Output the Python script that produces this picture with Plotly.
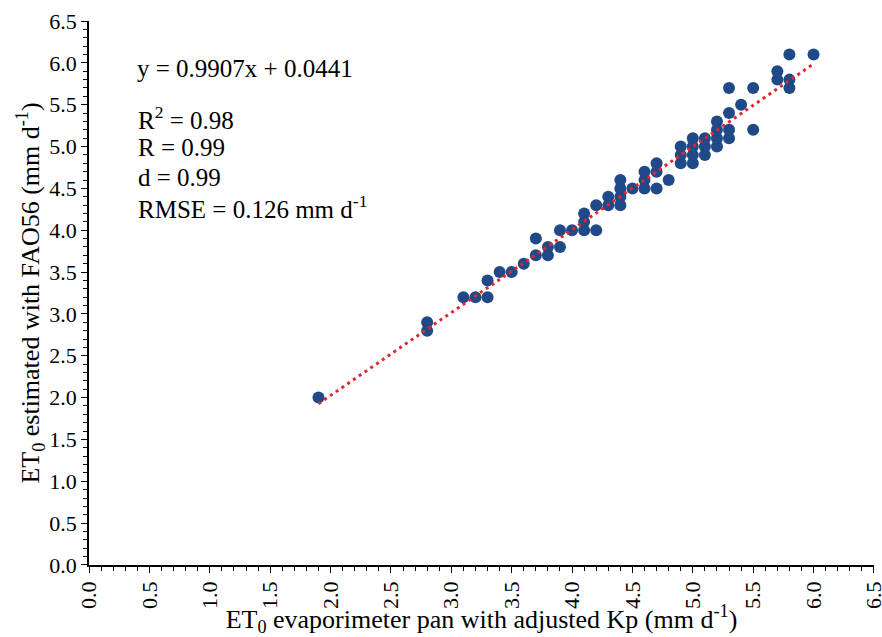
import plotly.graph_objects as go

pan_et0 = [1.9, 2.8, 2.8, 3.1, 3.2, 3.3, 3.3, 3.4, 3.5, 3.6, 3.7, 3.7, 3.8, 3.8,
           3.9, 3.9, 4.0, 4.1, 4.1, 4.1, 4.2, 4.2, 4.3, 4.3, 4.4, 4.4, 4.4, 4.4,
           4.5, 4.6, 4.6, 4.6, 4.7, 4.7, 4.7, 4.8, 4.9, 4.9, 4.9, 5.0, 5.0, 5.0,
           5.0, 5.1, 5.1, 5.1, 5.2, 5.2, 5.2, 5.2, 5.3, 5.3, 5.3, 5.3, 5.4, 5.5,
           5.5, 5.7, 5.7, 5.8, 5.8, 5.8, 6.0]
fao56_et0 = [2.0, 2.8, 2.9, 3.2, 3.2, 3.2, 3.4, 3.5, 3.5, 3.6, 3.7, 3.9, 3.7, 3.8,
             3.8, 4.0, 4.0, 4.0, 4.1, 4.2, 4.0, 4.3, 4.3, 4.4, 4.3, 4.4, 4.5, 4.6,
             4.5, 4.5, 4.6, 4.7, 4.5, 4.7, 4.8, 4.6, 4.8, 4.9, 5.0, 4.8, 4.9, 5.0,
             5.1, 4.9, 5.0, 5.1, 5.0, 5.1, 5.2, 5.3, 5.1, 5.2, 5.4, 5.7, 5.5, 5.2,
             5.7, 5.8, 5.9, 5.7, 5.8, 6.1, 6.1]

# Linear trendline endpoints (y = 0.9907x + 0.0441)
trend_x = [1.9, 6.0]
trend_y = [1.9264, 5.9883]

tick_vals = [0.0, 0.5, 1.0, 1.5, 2.0, 2.5, 3.0, 3.5, 4.0, 4.5, 5.0, 5.5, 6.0, 6.5]
tick_text = ["0.0", "0.5", "1.0", "1.5", "2.0", "2.5", "3.0", "3.5", "4.0", "4.5",
             "5.0", "5.5", "6.0", "6.5"]

stats_lines = ["R<sup>2</sup> = 0.98", "R = 0.99", "d = 0.99", "RMSE = 0.126 mm d<sup>-1</sup>"]
equation = "y = 0.9907x + 0.0441"

FONT = "Liberation Serif, Times New Roman, DejaVu Serif, serif"

fig = go.Figure()
fig.add_trace(go.Scatter(
    x=pan_et0, y=fao56_et0, mode="markers",
    marker=dict(size=12, color="#1F4A87", line=dict(width=0)),
    showlegend=False, hoverinfo="x+y"))
fig.add_trace(go.Scatter(
    x=trend_x, y=trend_y, mode="lines",
    line=dict(color="#E3262B", width=3, dash="3px,4px"),
    showlegend=False, hoverinfo="skip"))

L, R, T, B = 89, 8, 21, 72
W, H = 882, 637
pw, ph = W - L - R, H - T - B

axis_common = dict(
    range=[-0.0005, 6.5005], tickvals=tick_vals, ticktext=tick_text,
    showgrid=False, zeroline=False, showline=True, linecolor="black", linewidth=1.5,
    ticks="outside", ticklen=6, tickwidth=1.2, tickcolor="black",
    minor=dict(dtick=0.1, tick0=0, ticks="outside", ticklen=4, tickwidth=1, tickcolor="black", showgrid=False),
    tickfont=dict(family=FONT, size=22, color="black"),
    ticklabeloverflow="allow",
)

fig.update_xaxes(**axis_common, tickangle=-90,
                 title=dict(text="ET<sub>0</sub> evaporimeter pan with adjusted Kp (mm d<sup>-1</sup>)",
                            font=dict(family=FONT, size=26, color="black"), standoff=0))
fig.update_yaxes(**axis_common,
                 title=dict(text="ET<sub>0</sub> estimated with FAO56 (mm d<sup>-1</sup>)",
                            font=dict(family=FONT, size=26, color="black"), standoff=2))

def px_to_paper(xp, yp):
    return (xp - L) / pw, 1 - (yp - T) / ph

ann = []
ex, ey = px_to_paper(135, 68)
ann.append(dict(text=equation, x=ex, y=ey))
for i, line in enumerate(stats_lines):
    sx, sy = px_to_paper(136, 118 + i * 29.5)
    ann.append(dict(text=line, x=sx, y=sy))
for a in ann:
    a.update(xref="paper", yref="paper", xanchor="left", yanchor="middle", showarrow=False,
             font=dict(family=FONT, size=25, color="black"))
fig.update_layout(annotations=ann)

fig.update_layout(
    width=W, height=H,
    font=dict(family=FONT, color="black"),
    margin=dict(l=L, r=R, t=T, b=B, autoexpand=False),
    paper_bgcolor="white", plot_bgcolor="white",
    showlegend=False,
)

fig.write_html("out.html", config={"displayModeBar": False},
               post_script="document.body.style.margin='0px';document.body.style.overflow='hidden';")
